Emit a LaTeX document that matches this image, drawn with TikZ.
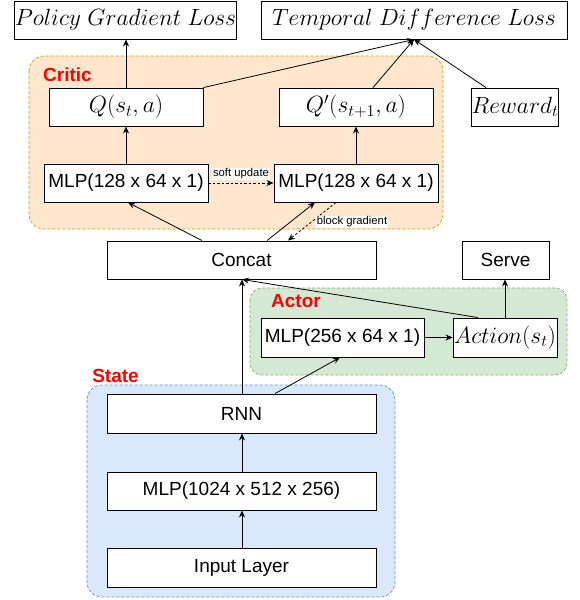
\RequirePackage{fix-cm}
\documentclass[tikz,border=0pt]{standalone}
\usepackage{fontspec}
\setmainfont{Liberation Sans}
\usetikzlibrary{arrows.meta}
\definecolor{critfill}{HTML}{FFE6CC}
\definecolor{critdraw}{HTML}{D79B00}
\definecolor{actfill}{HTML}{D5E8D4}
\definecolor{actdraw}{HTML}{82B366}
\definecolor{stfill}{HTML}{DAE8FC}
\definecolor{stdraw}{HTML}{6C8EBF}
\tikzset{
  box/.style={draw=black, line width=0.9pt, fill=white, inner sep=0pt, minimum height=38pt, font=\fontsize{19}{22}\selectfont},
  mathbox/.style={box, font=\fontsize{23.5}{27}\selectfont},
  region/.style={dashed, line width=0.7pt, dash pattern=on 3pt off 2pt},
  grouplabel/.style={text=red, font=\fontsize{19}{22}\selectfont\bfseries, inner sep=0pt},
  conn/.style={line width=0.8pt, -{Stealth[length=7pt,width=6pt]}},
  dconn/.style={conn, dash pattern=on 2.5pt off 2pt},
  elabel/.style={fill=white, inner sep=1pt, font=\fontsize{11.3}{13}\selectfont}
}
\begin{document}
\begin{tikzpicture}[x=1pt,y=-1pt]
\useasboundingbox (0,0) rectangle (579,600);
% regions
\draw[region, fill=critfill, draw=critdraw, rounded corners=15pt] (29,56) rectangle (443,229);
\draw[region, fill=actfill, draw=actdraw, rounded corners=12pt] (250,288) rectangle (567,375);
\draw[region, fill=stfill, draw=stdraw, rounded corners=15pt] (87,385) rectangle (395,597);
\node[grouplabel] (critic) at (67.5,75) {Critic};
\node[grouplabel] (actor) at (296,301) {Actor};
\node[grouplabel] (state) at (115.5,376) {State};
% boxes
\node[mathbox, minimum width=221pt] (pgl) at (125.5,20) {$Policy\ Gradient\ Loss$};
\node[mathbox, minimum width=306pt] (tdl) at (414,20) {$Temporal\ Difference\ Loss$};
\node[mathbox, minimum width=154pt] (q) at (126,107) {$Q(s_t,a)$};
\node[mathbox, minimum width=154pt] (qp) at (356,107) {$Q'(s_{t+1},a)$};
\node[mathbox, minimum width=86pt] (rew) at (515,107) {$Reward_t$};
\node[box, minimum width=164pt] (mlpc1) at (126,183) {MLP(128 x 64 x 1)};
\node[box, minimum width=164pt] (mlpc2) at (356,183) {MLP(128 x 64 x 1)};
\node[box, minimum width=269pt] (concat) at (241.5,260) {Concat};
\node[box, minimum width=87pt] (serve) at (505.5,260) {Serve};
\node[box, minimum width=163pt, minimum height=39pt] (mlpa) at (342.5,337.5) {MLP(256 x 64 x 1)};
\node[mathbox, minimum width=104pt, minimum height=39pt] (action) at (505,337.5) {$Action(s_t)$};
\node[box, minimum width=269pt, minimum height=39pt] (rnn) at (241.5,413.5) {RNN};
\node[box, minimum width=269pt] (mlps) at (241.5,491) {MLP(1024 x 512 x 256)};
\node[box, minimum width=269pt, minimum height=39pt] (input) at (241.5,567.5) {Input Layer};
% connectors
\draw[conn] (q.north) -- (q.north |- pgl.south);
\draw[conn] (q.north east) -- (tdl.south);
\draw[conn] ([xshift=17pt]qp.north) -- (tdl.south);
\draw[conn] ([xshift=-29pt]rew.north) -- (tdl.south);
\draw[conn] (mlpc1.north) -- (q.south);
\draw[conn] (mlpc2.north) -- (qp.south);
\draw[dconn] (mlpc1.east) -- (mlpc2.west);
\node[elabel] (soft) at (241,174) {soft update};
\draw[conn] ([xshift=-39.5pt]concat.north) -- ([xshift=2pt]mlpc1.south);
\draw[conn] ([xshift=25.5pt]concat.north) -- ([xshift=-41pt]mlpc2.south);
\draw[dconn] ([xshift=-20pt]mlpc2.south) -- ([xshift=46.5pt]concat.north);
\node[elabel] (block) at (352,222) {block gradient};
\draw[conn] (action.north) -- (action.north |- serve.south);
\draw[conn] (mlpa.east) -- (action.west);
\draw[conn] ([xshift=-27pt]action.north) -- ([xshift=0.5pt]concat.south);
\draw[conn] ([xshift=0.5pt]rnn.north) -- ([xshift=0.5pt]concat.south);
\draw[conn] ([xshift=33.5pt]rnn.north) -- ([xshift=-2.5pt]mlpa.south);
\draw[conn] ([xshift=0.5pt]mlps.north) -- ([xshift=0.5pt]rnn.south);
\draw[conn] ([xshift=0.5pt]input.north) -- ([xshift=0.5pt]mlps.south);
\end{tikzpicture}
\end{document}
